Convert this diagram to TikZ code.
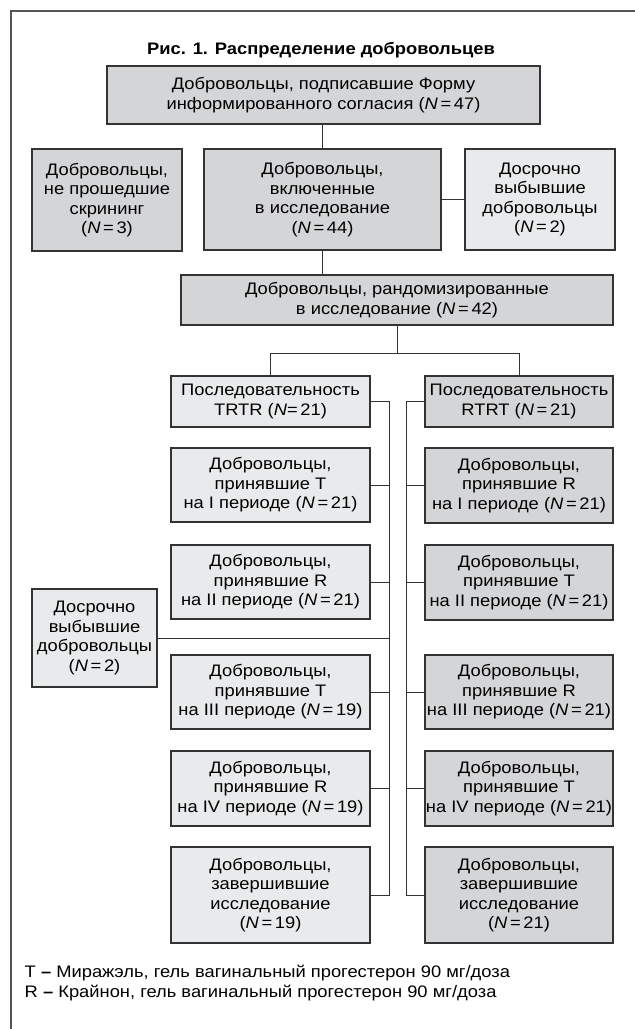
\documentclass[tikz,border=0pt]{standalone}
\usepackage{fontspec}
\setmainfont{Liberation Sans}[FakeStretch=1.10]
\usetikzlibrary{calc}
\definecolor{boxdark}{HTML}{D4D5D7}
\definecolor{boxlight}{HTML}{E9EAEB}
\definecolor{linegray}{HTML}{333333}
\definecolor{framegray}{HTML}{555555}
\newcommand{\bodyfont}{\fontsize{12.5}{14.6}\selectfont}
\newcommand{\nn}[1]{(\textit{N}\hspace{0.16em}=\hspace{0.16em}#1)}
\tikzset{
  box/.style={draw=linegray, line width=0.9pt, align=center, inner sep=0pt, font=\bodyfont},
  darkbox/.style={box, fill=boxdark},
  lightbox/.style={box, fill=boxlight},
  wh/.style 2 args={minimum width=#1*0.75pt, minimum height=#2*0.75pt},
  link/.style={draw=linegray, line width=0.75pt},
}

\begin{document}
\begin{tikzpicture}[x=0.75pt, y=-0.75pt]
  \useasboundingbox (0,0) rectangle (635,1029);
  % frame
  \draw[framegray, line width=1.2pt] (11,1029) -- (11,11) -- (635,11);
  % title
  \node[font=\bodyfont\bfseries] (title) at (321,50) {Рис. 1. Распределение добровольцев};
  % top part
  \node[darkbox, wh={433}{58}] (consent) at (323.5,95)
    {Добровольцы, подписавшие Форму\\информированного согласия \nn{47}};
  \node[darkbox, wh={150}{102}] (screen) at (107,200)
    {Добровольцы,\\не прошедшие\\скрининг\\\nn{3}};
  \node[darkbox, wh={237}{101}] (included) at (322.5,199.5)
    {Добровольцы,\\включенные\\в исследование\\\nn{44}};
  \node[lightbox, wh={150}{101}] (drop1) at (540,199.5)
    {Досрочно\\выбывшие\\добровольцы\\\nn{2}};
  \node[darkbox, wh={432}{50}] (random) at (397,300)
    {Добровольцы, рандомизированные\\в исследование \nn{42}};
  % sequences
  \node[lightbox, wh={199}{51}] (trtr) at (270.5,401.5)
    {Последовательность\\TRTR (\textit{N}=\hspace{0.16em}21)};
  \node[darkbox, wh={188}{51}] (rtrt) at (519,401.5)
    {Последовательность\\RTRT \nn{21}};
  % TRTR column
  \node[lightbox, wh={199}{74}] (lp1) at (270.5,485)
    {Добровольцы,\\принявшие T\\на I периоде \nn{21}};
  \node[lightbox, wh={199}{74}] (lp2) at (270.5,582)
    {Добровольцы,\\принявшие R\\на II периоде \nn{21}};
  \node[lightbox, wh={199}{74}] (lp3) at (270.5,692)
    {Добровольцы,\\принявшие T\\на III периоде \nn{19}};
  \node[lightbox, wh={199}{75}] (lp4) at (270.5,788.5)
    {Добровольцы,\\принявшие R\\на IV периоде \nn{19}};
  \node[lightbox, wh={199}{96}] (lend) at (270.5,895)
    {Добровольцы,\\завершившие\\исследование\\\nn{19}};
  % RTRT column
  \node[darkbox, wh={188}{75}] (rp1) at (519,485.5)
    {Добровольцы,\\принявшие R\\на I периоде \nn{21}};
  \node[darkbox, wh={188}{75}] (rp2) at (519,582.5)
    {Добровольцы,\\принявшие T\\на II периоде \nn{21}};
  \node[darkbox, wh={188}{74}] (rp3) at (519,692)
    {Добровольцы,\\принявшие R\\на III периоде \nn{21}};
  \node[darkbox, wh={188}{75}] (rp4) at (519,788.5)
    {Добровольцы,\\принявшие T\\на IV периоде \nn{21}};
  \node[darkbox, wh={188}{96}] (rend) at (519,895)
    {Добровольцы,\\завершившие\\исследование\\\nn{21}};
  % early withdrawal
  \node[lightbox, wh={125}{98}] (drop2) at (94.5,638)
    {Досрочно\\выбывшие\\добровольцы\\\nn{2}};
  % connectors
  \draw[link] ($(screen.north)+(31,0)$) -- ($(screen.north)+(31,0)$ |- consent.south);
  \draw[link] (included.north) -- (included.north |- consent.south);
  \draw[link] (included.east) -- (drop1.west);
  \draw[link] (included.south) -- (included.south |- random.north);
  \coordinate (split) at ($(random.south)+(0,28)$);
  \draw[link] (random.south) -- (split);
  \draw[link] (trtr.north) -- (trtr.north |- split) -- (rtrt.north |- split) -- (rtrt.north);
  \coordinate (lspine) at (389,0);
  \coordinate (rspine) at (406,0);
  \draw[link] (trtr.east) -- (trtr.east -| lspine) -- (lend.east -| lspine) -- (lend.east);
  \draw[link] (rtrt.west) -- (rtrt.west -| rspine) -- (rend.west -| rspine) -- (rend.west);
  \foreach \n in {lp1,lp2,lp3,lp4}
    \draw[link] (\n.east) -- (\n.east -| lspine);
  \foreach \n in {rp1,rp2,rp3,rp4}
    \draw[link] (\n.west) -- (\n.west -| rspine);
  \draw[link] (drop2.east) -- (drop2.east -| lspine);
  % legend
  \node[anchor=west, font=\bodyfont] (legT) at (20,973)
    {T \textbf{–} Миражэль, гель вагинальный прогестерон 90 мг/доза};
  \node[anchor=west, font=\bodyfont] (legR) at (20,993)
    {R \textbf{–} Крайнон, гель вагинальный прогестерон 90 мг/доза};
\end{tikzpicture}
\end{document}
